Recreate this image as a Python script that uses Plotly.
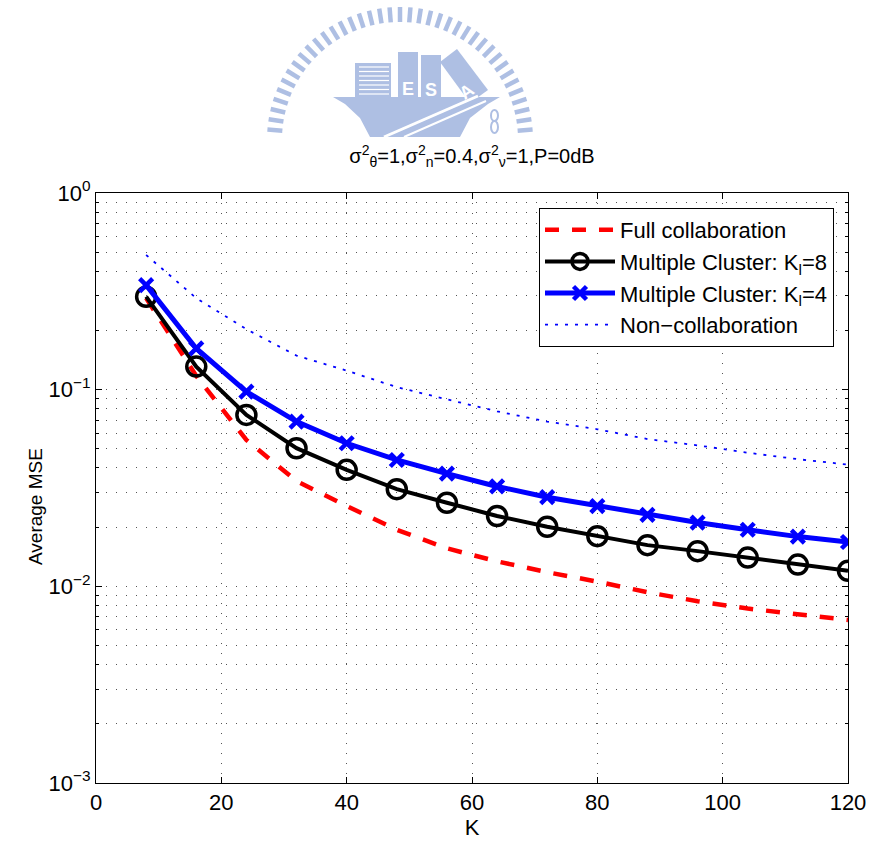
import math
import plotly.graph_objects as go

# Number of sensors K and the average MSE of each scheme
K = [8, 16, 24, 32, 40, 48, 56, 64, 72, 80, 88, 96, 104, 112, 120]
full_collab = [0.292, 0.1175, 0.0555, 0.0343, 0.0256, 0.0194, 0.0156, 0.0134,
               0.0118, 0.01057, 0.00933, 0.0084, 0.00771, 0.00722, 0.00675]
cluster_k8 = [0.297, 0.131, 0.0744, 0.0504, 0.0391, 0.0312, 0.0266, 0.0228,
              0.0201, 0.0180, 0.0162, 0.0151, 0.0140, 0.0129, 0.0120]
cluster_k4 = [0.340, 0.162, 0.0977, 0.0688, 0.0534, 0.0439, 0.0374, 0.0322,
              0.0284, 0.0256, 0.0231, 0.0211, 0.0194, 0.0179, 0.0168]
non_collab = [0.484, 0.292, 0.203, 0.149, 0.125, 0.103, 0.0893, 0.0776,
              0.0688, 0.0629, 0.0561, 0.0521, 0.0478, 0.0443, 0.0416]

y_major = [1e-3, 1e-2, 1e-1, 1]
y_major_text = ["10<sup>−3</sup>", "10<sup>−2</sup>", "10<sup>−1</sup>", "10<sup>0</sup>"]
y_minor = [m * 10 ** e for e in (-3, -2, -1) for m in range(2, 10)]

FONT = "Liberation Sans, Arial, sans-serif"
NARROW = "Liberation Sans Narrow, Arial Narrow, Liberation Sans, sans-serif"
W, H = 871, 845
L, R, T, B = 96, 23, 193, 62
PW, PH = W - L - R, H - T - B

fig = go.Figure()
fig.add_trace(go.Scatter(
    x=K, y=full_collab, mode="lines", name="Full collaboration",
    line=dict(color="#ff0000", width=4.5, dash="14px,13px")))
fig.add_trace(go.Scatter(
    x=K, y=cluster_k8, mode="lines+markers", name="Multiple Cluster: K<sub>l</sub>=8",
    line=dict(color="black", width=4),
    marker=dict(symbol="circle-open", size=19, color="black", line=dict(width=3.5, color="black"))))
fig.add_trace(go.Scatter(
    x=K, y=cluster_k4, mode="lines+markers", name="Multiple Cluster: K<sub>l</sub>=4",
    line=dict(color="#0000ff", width=5),
    marker=dict(symbol="x-thin-open", size=13, color="#0000ff", line=dict(width=4.5, color="#0000ff"))))
fig.add_trace(go.Scatter(
    x=K, y=non_collab, mode="lines", name="Non−collaboration",
    line=dict(color="#0000ff", width=1.8, dash="3px,7px")))


# ---- faint emblem above the title (pixel layout converted to paper units)
def px(xp):
    return (xp - L) / PW


def py(yp):
    return (H - B - yp) / PH


EMB = "#aebfe3"
shapes = []
cx, cy, r_in, r_out = 400, 140, 118, 133
n_bars = 40
for i in range(n_bars + 1):
    a = math.pi * i / n_bars
    x0, y0 = cx + r_in * math.cos(a), cy - r_in * math.sin(a)
    x1, y1 = cx + r_out * math.cos(a), cy - r_out * math.sin(a)
    if y0 > 137 or y1 > 137:
        continue
    shapes.append(dict(type="line", xref="paper", yref="paper",
                       x0=px(x0), y0=py(y0), x1=px(x1), y1=py(y1),
                       line=dict(color=EMB, width=4.5)))


def poly(pts, color=EMB):
    d = "M " + " L ".join(f"{px(a):.5f},{py(b):.5f}" for a, b in pts) + " Z"
    return dict(type="path", xref="paper", yref="paper", path=d,
                fillcolor=color, line=dict(width=0))


# anvil body
anvil = [(333, 97), (500, 97), (488, 104), (470, 118), (460, 137), (370, 137), (360, 118), (345, 104)]
shapes.append(poly(anvil))
# striped block
shapes.append(poly([(355, 63), (391, 63), (391, 98), (355, 98)]))
for k in range(7):
    yy = 67 + 4.5 * k
    shapes.append(dict(type="line", xref="paper", yref="paper",
                       x0=px(359), x1=px(389), y0=py(yy), y1=py(yy),
                       line=dict(color="white", width=1.2)))
# lettered blocks
shapes.append(poly([(398, 52), (418, 52), (418, 98), (398, 98)]))
shapes.append(poly([(421, 55), (441, 55), (441, 98), (421, 98)]))
shapes.append(poly([(440, 62), (457, 49), (488, 90), (470, 103)]))
# hammer handle
shapes.append(dict(type="line", xref="paper", yref="paper",
                   x0=px(384), y0=py(137), x1=px(478), y1=py(96),
                   line=dict(color="white", width=3)))
shapes.append(dict(type="line", xref="paper", yref="paper",
                   x0=px(404), y0=py(137), x1=px(486), y1=py(101),
                   line=dict(color="white", width=2)))
# small hook
shapes.append(dict(type="circle", xref="paper", yref="paper",
                   x0=px(491), x1=px(498), y0=py(110), y1=py(121),
                   line=dict(color=EMB, width=2)))
shapes.append(dict(type="circle", xref="paper", yref="paper",
                   x0=px(491), x1=px(498), y0=py(121), y1=py(133),
                   line=dict(color=EMB, width=2)))

annotations = []
for txt, xx, yy, ang in (("E", 408, 77, 0), ("S", 431, 78, 0), ("A", 466, 77, -35)):
    annotations.append(dict(text=f"<b>{txt}</b>", xref="paper", yref="paper",
                            x=px(xx), y=py(yy), showarrow=False, textangle=ang,
                            font=dict(family=FONT, size=18, color="white")))

# y-axis label
annotations.append(dict(text="Average MSE", xref="paper", yref="paper",
                        x=px(35), y=py(507), xanchor="center", yanchor="middle",
                        showarrow=False, textangle=-90,
                        font=dict(family=NARROW, size=19, color="black")))

grid_dash = "1px,9px"
fig.update_layout(
    width=W, height=H,
    margin=dict(l=L, r=R, t=T, b=B, autoexpand=False),
    paper_bgcolor="white", plot_bgcolor="white",
    font=dict(family=FONT, size=22, color="black"),
    title=dict(text="σ<sup>2</sup><sub>θ</sub>=1,σ<sup>2</sup><sub>n</sub>=0.4,"
                    "σ<sup>2</sup><sub>ν</sub>=1,P=0dB",
               x=(L + PW / 2) / W, xanchor="center", y=1 - 156 / H, yanchor="middle",
               font=dict(family=FONT, size=20, color="black")),
    xaxis=dict(range=[0, 120], dtick=20, tick0=0,
               showline=True, linecolor="black", linewidth=1, mirror="ticks",
               ticks="inside", ticklen=6, tickcolor="black",
               showgrid=True, gridcolor="#555555", griddash=grid_dash, gridwidth=1,
               zeroline=False, tickfont=dict(size=22),
               title=dict(text="K", font=dict(size=22), standoff=4)),
    yaxis=dict(type="log", range=[-3, 0],
               tickvals=y_major, ticktext=y_major_text,
               showline=True, linecolor="black", linewidth=1, mirror="ticks",
               ticks="inside", ticklen=6, tickcolor="black",
               showgrid=True, gridcolor="#555555", griddash=grid_dash, gridwidth=1,
               minor=dict(tickvals=y_minor, ticks="inside", ticklen=3, tickcolor="black",
                          showgrid=True, gridcolor="#555555", griddash=grid_dash, gridwidth=1),
               zeroline=False, tickfont=dict(size=22)),
    legend=dict(x=(834 - L) / PW, xanchor="right", y=py(208), yanchor="top",
                bgcolor="white", bordercolor="black", borderwidth=1,
                font=dict(family=FONT, size=22, color="black"),
                itemwidth=70, tracegroupgap=0),
    shapes=shapes,
    annotations=annotations,
    showlegend=True,
)

fig.write_html("out.html")
